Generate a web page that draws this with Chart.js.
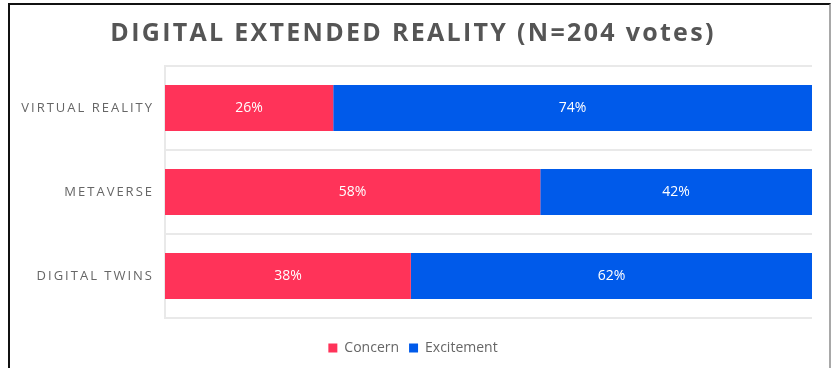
<!DOCTYPE html>
<html lang="en">
<head>
    <meta charset="UTF-8">
    <title>Digital Extended Reality</title>
    <script src="https://cdn.jsdelivr.net/npm/chart.js"></script>
    <style>
        body { margin: 0; background: #fff; }
        .wrap { position: relative; width: 831px; height: 368px; }
        .frame {
            position: absolute; left: 8px; top: 3px; width: 819px; height: 370px;
            border-left: 2px solid #111; border-top: 2px solid #111; border-right: 2px solid #a8a8a8;
            pointer-events: none;
        }
    </style>
</head>
<body>
<div class="wrap">
    <canvas id="xrChart" width="831" height="368"></canvas>
    <div class="frame"></div>
</div>

<script>
    const categories = ['VIRTUAL REALITY', 'METAVERSE', 'DIGITAL TWINS'];
    const concern = [26, 58, 38];
    const excitement = [74, 42, 62];
    const seriesNames = ['Concern', 'Excitement'];

    const FONT = "'Open Sans', sans-serif";

    // white % labels in the middle of each bar segment
    const barLabels = {
        id: 'barLabels',
        afterDatasetsDraw(chart) {
            const ctx = chart.ctx;
            ctx.save();
            ctx.fillStyle = '#fff';
            ctx.font = '14px ' + FONT;
            ctx.textAlign = 'center';
            ctx.textBaseline = 'middle';
            chart.data.datasets.forEach((ds, i) => {
                chart.getDatasetMeta(i).data.forEach((bar, j) => {
                    const p = bar.getCenterPoint();
                    ctx.fillText(ds.data[j] + '%', p.x, p.y);
                });
            });
            ctx.restore();
        }
    };

    // spaced-out category labels and title
    const spacing = {
        id: 'spacing',
        afterUpdate(chart) {
            const wrap = (obj, fn, gap) => {
                if (!obj || obj['_sp_' + fn]) return;
                const orig = obj[fn];
                obj[fn] = function (...args) {
                    chart.ctx.save();
                    chart.ctx.letterSpacing = gap;
                    orig.apply(this, args);
                    chart.ctx.restore();
                };
                obj['_sp_' + fn] = true;
            };
            wrap(chart.scales.y, 'drawLabels', '2px');
            wrap(chart.titleBlock, 'draw', '2.3px');
        }
    };

    new Chart(document.getElementById('xrChart'), {
        type: 'bar',
        data: {
            labels: categories,
            datasets: [
                { label: seriesNames[0], data: concern, backgroundColor: '#ff3359' },
                { label: seriesNames[1], data: excitement, backgroundColor: '#005aea' }
            ]
        },
        options: {
            indexAxis: 'y',
            responsive: false,
            animation: false,
            barPercentage: 0.55,
            categoryPercentage: 1,
            layout: { padding: { left: 14, right: 19, top: 12, bottom: 3 } },
            scales: {
                x: {
                    stacked: true, min: 0, max: 100,
                    grid: { display: false }, border: { display: false },
                    ticks: { display: false },
                    afterFit: s => { s.height = 13; }
                },
                y: {
                    stacked: true,
                    grid: { color: '#e9e9e9', lineWidth: 2, drawTicks: false },
                    border: { color: '#e9e9e9', width: 2 },
                    ticks: { color: '#666', padding: 11, font: { family: FONT, size: 13 } },
                    afterFit: s => { s.width = 151; }
                }
            },
            plugins: {
                title: {
                    display: true,
                    text: 'DIGITAL EXTENDED REALITY (N=204 votes)',
                    color: '#555',
                    font: { family: FONT, size: 25, weight: 'bold' },
                    padding: { top: 7, bottom: 17 }
                },
                legend: {
                    position: 'bottom',
                    labels: { boxWidth: 9, boxHeight: 9, padding: 10, color: '#666', font: { family: FONT, size: 14 } }
                },
                tooltip: { enabled: false }
            }
        },
        plugins: [barLabels, spacing]
    });
</script>
</body>
</html>
